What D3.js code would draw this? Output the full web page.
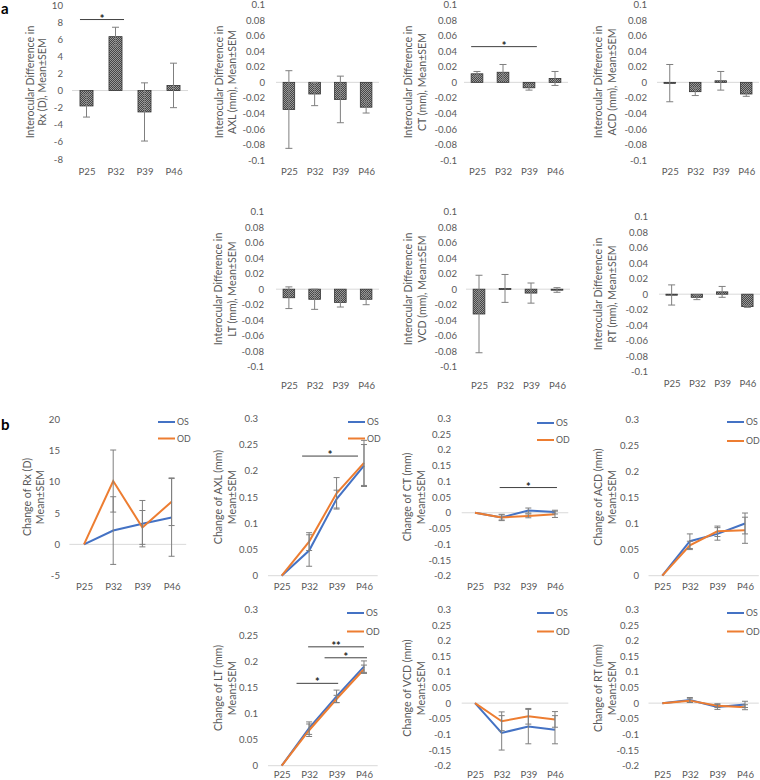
<!DOCTYPE html>
<html><head><meta charset="utf-8">
<script src="https://cdn.jsdelivr.net/npm/d3@7"></script>
<style>
body{margin:0;background:#fff}
svg{display:block}
text{font-family:Lato,"Open Sans",sans-serif}
</style>
</head><body>
<svg id="c" width="760" height="780"></svg>
<script>
// ---------------- DATA ----------------
const categories = ["P25", "P32", "P39", "P46"];

// panel a: interocular differences (bars, mean ± SEM)
const rxDiff = [-1.8, 6.3, -2.5, 0.6];
const rxDiffErr = [1.3, 1.1, 3.4, 2.6];
const axlDiff = [-0.035, -0.015, -0.022, -0.032];
const axlDiffErr = [0.050, 0.015, 0.030, 0.0075];
const ctDiff = [0.011, 0.013, -0.007, 0.005];
const ctDiffErr = [0.003, 0.010, 0.003, 0.009];
const acdDiff = [-0.001, -0.012, 0.002, -0.015];
const acdDiffErr = [0.024, 0.005, 0.012, 0.003];
const ltDiff = [-0.011, -0.013, -0.017, -0.013];
const ltDiffErr = [0.014, 0.013, 0.006, 0.007];
const vcdDiff = [-0.032, 0.001, -0.005, -0.001];
const vcdDiffErr = [0.050, 0.018, 0.013, 0.003];
const rtDiff = [-0.001, -0.004, 0.003, -0.016];
const rtDiffErr = [0.013, 0.003, 0.007, 0.001];

// panel b: changes from P25 (lines, mean ± SEM)
const rxOS = [0, 2.2, 3.3, 4.3];
const rxOSErr = [0, 5.4, 3.7, 6.2];
const rxOD = [0, 10.1, 2.7, 6.8];
const rxODErr = [0, 4.95, 2.7, 3.8];
const axlOS = [0, 0.048, 0.146, 0.210];
const axlOSErr = [0, 0.030, 0.017, 0.040];
const axlOD = [0, 0.065, 0.157, 0.215];
const axlODErr = [0, 0.017, 0.030, 0.043];
const ctOS = [0, -0.015, 0.007, 0.002];
const ctOSErr = [0, 0.010, 0.008, 0.006];
const ctOD = [0, -0.015, -0.010, -0.005];
const ctODErr = [0, 0.008, 0.006, 0.010];
const acdOS = [0, 0.066, 0.080, 0.100];
const acdOSErr = [0, 0.014, 0.012, 0.020];
const acdOD = [0, 0.058, 0.085, 0.087];
const acdODErr = [0, 0.008, 0.010, 0.025];
const ltOS = [0, 0.072, 0.133, 0.190];
const ltOSErr = [0, 0.012, 0.012, 0.011];
const ltOD = [0, 0.068, 0.128, 0.185];
const ltODErr = [0, 0.012, 0.007, 0.008];
const vcdOS = [0, -0.095, -0.075, -0.085];
const vcdOSErr = [0, 0.055, 0.055, 0.045];
const vcdOD = [0, -0.058, -0.042, -0.052];
const vcdODErr = [0, 0.030, 0.025, 0.025];
const rtOS = [0, 0.010, -0.012, -0.004];
const rtOSErr = [0, 0.008, 0.008, 0.010];
const rtOD = [0, 0.008, -0.008, -0.013];
const rtODErr = [0, 0.006, 0.006, 0.008];

// tick labels
const rxDiffTicks = [10, 8, 6, 4, 2, 0, -2, -4, -6, -8];
const diffTicks = [0.1, 0.08, 0.06, 0.04, 0.02, 0, -0.02, -0.04, -0.06, -0.08, -0.1];
const rxChangeTicks = [20, 15, 10, 5, 0, -5];
const posChangeTicks = [0.3, 0.25, 0.2, 0.15, 0.1, 0.05, 0];
const mixChangeTicks = [0.3, 0.25, 0.2, 0.15, 0.1, 0.05, 0, -0.05, -0.1, -0.15, -0.2];

// significance marks
const rxDiffSig = [{from: "P25", to: "P32", value: 8.3, label: "*"}];
const ctDiffSig = [{from: "P25", to: "P39", value: 0.046, label: "*"}];
const axlChangeSig = [{from: "P32", to: "P46", value: 0.228, label: "*"}];
const ctChangeSig = [{from: "P32", to: "P46", value: 0.08, label: "*"}];
const ltChangeSig = [
  {from: "P32", to: "P46", value: 0.228, label: "**"},
  {from: "P39", to: "P46", value: 0.207, label: "*"},
  {from: "P32", to: "P39", value: 0.158, label: "*"}
];
const seriesNames = ["OS", "OD"];

// ---------------- STYLE / LAYOUT ----------------
const TXT = "#595959";
const ERR = "#7f7f7f";
const ZERO = "#d9d9d9";
const OS_C = "#4472C4";
const OD_C = "#ED7D31";
const TICK_FS = 9.6;
const TITLE_FS = 10.6;

const svg = d3.select("#c");
const defs = svg.append("defs");
const pat = defs.append("pattern").attr("id", "chk")
  .attr("width", 2).attr("height", 2).attr("patternUnits", "userSpaceOnUse");
pat.append("rect").attr("width", 2).attr("height", 2).attr("fill", "#474747");
pat.append("rect").attr("width", 1).attr("height", 1).attr("fill", "#9a9a9a");
pat.append("rect").attr("x", 1).attr("y", 1).attr("width", 1).attr("height", 1).attr("fill", "#9a9a9a");

const fmt = d => String(+d.toFixed(4));

function yAxis(g, y, ticks, tx) {
  const a = g.append("g").attr("transform", `translate(${tx},0)`)
    .call(d3.axisLeft(y).tickValues(ticks).tickSize(0).tickPadding(0).tickFormat(fmt));
  a.attr("font-family", null).attr("font-size", null);
  a.select(".domain").remove();
  a.selectAll("text").attr("fill", TXT).style("font-size", TICK_FS + "px");
}
function xAxis(g, x, catY) {
  const a = g.append("g").attr("transform", `translate(0,${catY - 0.36 * TICK_FS})`)
    .call(d3.axisBottom(x).tickSize(0).tickPadding(0));
  a.attr("font-family", null).attr("font-size", null);
  a.select(".domain").remove();
  a.selectAll("text").attr("fill", TXT).style("font-size", TICK_FS + "px");
}
function title(g, L, t1, t2) {
  [[t1, L.tx1], [t2, L.tx2]].forEach(([t, tx]) => {
    g.append("text").attr("transform", `translate(${tx + 0.35 * TITLE_FS},${L.ty}) rotate(-90)`)
      .attr("text-anchor", "middle").attr("fill", TXT).style("font-size", TITLE_FS + "px").text(t);
  });
}
function sig(g, sigs, x, y, offs) {
  sigs.forEach((s, i) => {
    const o = offs[i];
    const x1 = x(s.from) + o[0], x2 = x(s.to) + o[1];
    const yy = y(s.value);
    g.append("line").attr("x1", x1).attr("x2", x2).attr("y1", yy).attr("y2", yy)
      .attr("stroke", "#404040").attr("stroke-width", 1);
    g.append("text").attr("x", (x1 + x2) / 2).attr("y", yy + 3).attr("text-anchor", "middle")
      .attr("fill", "#262626").style("font-size", "11px").style("font-weight", "bold").text(s.label);
  });
}

function barPanel(L, vals, errs, ticks, t1, t2, sigs) {
  const g = svg.append("g");
  const y = d3.scaleLinear().domain(d3.extent(ticks)).range([L.yBot, L.yTop]);
  const x = d3.scaleBand().domain(categories).range([L.x0, L.x1]).paddingInner(0.55).paddingOuter(0.275);
  yAxis(g, y, ticks, L.tickX);
  g.append("line").attr("x1", L.x0).attr("x2", L.x1).attr("y1", y(0)).attr("y2", y(0))
    .attr("stroke", ZERO).attr("stroke-width", 1);
  const bw = x.bandwidth();
  categories.forEach((c, i) => {
    const v = vals[i], e = errs[i];
    g.append("rect").attr("x", x(c)).attr("width", bw)
      .attr("y", Math.min(y(v), y(0))).attr("height", Math.max(1, Math.abs(y(v) - y(0))))
      .attr("fill", "url(#chk)").attr("stroke", "#333").attr("stroke-width", 0.8);
    const cx = x(c) + bw / 2;
    g.append("line").attr("x1", cx).attr("x2", cx).attr("y1", y(v - e)).attr("y2", y(v + e))
      .attr("stroke", ERR).attr("stroke-width", 1);
    [v - e, v + e].forEach(w => g.append("line").attr("x1", cx - 3.5).attr("x2", cx + 3.5)
      .attr("y1", y(w)).attr("y2", y(w)).attr("stroke", ERR).attr("stroke-width", 1));
  });
  if (sigs) sig(g, sigs, x, y, sigs.map(() => [0, bw + 2]));
  const xp = d3.scalePoint().domain(categories).range([L.x0, L.x1]).padding(0.5);
  xAxis(g, xp, L.catY);
  title(g, L, t1, t2);
}

function linePanel(L, os, osE, od, odE, ticks, t1, t2, sigs) {
  const g = svg.append("g");
  const y = d3.scaleLinear().domain(d3.extent(ticks)).range([L.yBot, L.yTop]);
  const x = d3.scalePoint().domain(categories).range([L.x0, L.x1]).padding(0.5);
  yAxis(g, y, ticks, L.tickX);
  g.append("line").attr("x1", L.x0).attr("x2", L.x1).attr("y1", y(0)).attr("y2", y(0))
    .attr("stroke", ZERO).attr("stroke-width", 1);
  const line = d3.line().x((d, i) => x(categories[i])).y(d => y(d));
  [[os, OS_C], [od, OD_C]].forEach(([s, col]) => {
    g.append("path").attr("d", line(s)).attr("fill", "none").attr("stroke", col).attr("stroke-width", 2);
  });
  [[os, osE], [od, odE]].forEach(([s, e]) => {
    categories.forEach((c, i) => {
      if (!e[i]) return;
      const cx = x(c);
      g.append("line").attr("x1", cx).attr("x2", cx).attr("y1", y(s[i] - e[i])).attr("y2", y(s[i] + e[i]))
        .attr("stroke", ERR).attr("stroke-width", 1);
      [s[i] - e[i], s[i] + e[i]].forEach(w => g.append("line").attr("x1", cx - 3).attr("x2", cx + 3)
        .attr("y1", y(w)).attr("y2", y(w)).attr("stroke", ERR).attr("stroke-width", 1));
    });
  });
  if (sigs) sig(g, sigs, x, y, L.sigOff);
  xAxis(g, x, L.catY);
  // legend
  [[seriesNames[0], OS_C, L.legY1], [seriesNames[1], OD_C, L.legY2]].forEach(([n, col, ly]) => {
    g.append("line").attr("x1", L.legX).attr("x2", L.legX + 17).attr("y1", ly).attr("y2", ly)
      .attr("stroke", col).attr("stroke-width", 2);
    g.append("text").attr("x", L.legX + 19).attr("y", ly).attr("dy", "0.35em")
      .attr("fill", TXT).style("font-size", "8.8px").text(n);
  });
  title(g, L, t1, t2);
}

// panel letters
svg.append("text").attr("x", 1).attr("y", 14).style("font-size", "15px").style("font-weight", "bold").attr("fill", "#000").text("a");
svg.append("text").attr("x", 1).attr("y", 430).style("font-size", "15px").style("font-weight", "bold").attr("fill", "#000").text("b");

// panel a
const LA = {
  rx:  {x0: 72,  x1: 188, yTop: 5,     yBot: 159,   tickX: 63,  catY: 172, tx1: 30,  tx2: 42,  ty: 82},
  axl: {x0: 276, x1: 379, yTop: 4.7,   yBot: 160,   tickX: 265, catY: 172, tx1: 219, tx2: 232, ty: 82},
  ct:  {x0: 464, x1: 568, yTop: 4.7,   yBot: 160,   tickX: 457, catY: 172, tx1: 408, tx2: 422, ty: 82},
  acd: {x0: 657, x1: 759, yTop: 4.7,   yBot: 160,   tickX: 647, catY: 172, tx1: 598, tx2: 612, ty: 82},
  lt:  {x0: 276, x1: 379, yTop: 211.7, yBot: 366.7, tickX: 264, catY: 386, tx1: 218, tx2: 232, ty: 289},
  vcd: {x0: 466, x1: 570, yTop: 211.7, yBot: 366.7, tickX: 457, catY: 386, tx1: 408, tx2: 422, ty: 289},
  rt:  {x0: 659, x1: 760, yTop: 216.7, yBot: 371.7, tickX: 648, catY: 384, tx1: 598, tx2: 612, ty: 294}
};
barPanel(LA.rx, rxDiff, rxDiffErr, rxDiffTicks, "Interocular Difference in", "Rx (D), Mean±SEM", rxDiffSig);
barPanel(LA.axl, axlDiff, axlDiffErr, diffTicks, "Interocular Difference in", "AXL (mm), Mean±SEM");
barPanel(LA.ct, ctDiff, ctDiffErr, diffTicks, "Interocular Difference in", "CT (mm), Mean±SEM", ctDiffSig);
barPanel(LA.acd, acdDiff, acdDiffErr, diffTicks, "Interocular Difference in", "ACD (mm), Mean±SEM");
barPanel(LA.lt, ltDiff, ltDiffErr, diffTicks, "Interocular Difference in", "LT (mm), Mean±SEM");
barPanel(LA.vcd, vcdDiff, vcdDiffErr, diffTicks, "Interocular Difference in", "VCD (mm), Mean±SEM");
barPanel(LA.rt, rtDiff, rtDiffErr, diffTicks, "Interocular Difference in", "RT (mm), Mean±SEM");

// panel b
const LB = {
  rx:  {x0: 69.4,  x1: 186.2, yTop: 419,   yBot: 575.7, tickX: 60,  catY: 587,   legX: 158, legY1: 422, legY2: 438.5, tx1: 27,  tx2: 40,  ty: 497},
  axl: {x0: 268,   x1: 377.7, yTop: 418.3, yBot: 575.7, tickX: 258, catY: 587,   legX: 348, legY1: 422, legY2: 438.5, tx1: 218, tx2: 232, ty: 497, sigOff: [[-7, -6]]},
  ct:  {x0: 461.7, x1: 568.3, yTop: 418.3, yBot: 575.7, tickX: 451, catY: 587,   legX: 537, legY1: 423, legY2: 440,   tx1: 407, tx2: 421, ty: 497, sigOff: [[-2, 2]]},
  acd: {x0: 648.5, x1: 758.8, yTop: 419,   yBot: 575.7, tickX: 639, catY: 587,   legX: 727, legY1: 422, legY2: 441,   tx1: 598, tx2: 612, ty: 497},
  lt:  {x0: 268,   x1: 377.7, yTop: 609.3, yBot: 765.7, tickX: 258, catY: 774.5, legX: 347, legY1: 613, legY2: 631.5, tx1: 218, tx2: 232, ty: 688, sigOff: [[-1, 0], [-12, 3], [-12.6, 1.6]]},
  vcd: {x0: 461.7, x1: 568.3, yTop: 609.3, yBot: 765.7, tickX: 451, catY: 774.5, legX: 537, legY1: 613, legY2: 631.5, tx1: 407, tx2: 421, ty: 688},
  rt:  {x0: 648.5, x1: 758.8, yTop: 609.3, yBot: 765.7, tickX: 639, catY: 774.5, legX: 727, legY1: 613, legY2: 631.5, tx1: 598, tx2: 612, ty: 688}
};
linePanel(LB.rx, rxOS, rxOSErr, rxOD, rxODErr, rxChangeTicks, "Change of Rx (D)", "Mean±SEM");
linePanel(LB.axl, axlOS, axlOSErr, axlOD, axlODErr, posChangeTicks, "Change of AXL (mm)", "Mean±SEM", axlChangeSig);
linePanel(LB.ct, ctOS, ctOSErr, ctOD, ctODErr, mixChangeTicks, "Change of CT (mm)", "Mean±SEM", ctChangeSig);
linePanel(LB.acd, acdOS, acdOSErr, acdOD, acdODErr, posChangeTicks, "Change of ACD (mm)", "Mean±SEM");
linePanel(LB.lt, ltOS, ltOSErr, ltOD, ltODErr, posChangeTicks, "Change of LT (mm)", "Mean±SEM", ltChangeSig);
linePanel(LB.vcd, vcdOS, vcdOSErr, vcdOD, vcdODErr, mixChangeTicks, "Change of VCD (mm)", "Mean±SEM");
linePanel(LB.rt, rtOS, rtOSErr, rtOD, rtODErr, mixChangeTicks, "Change of RT (mm)", "Mean±SEM");
</script>
</body></html>
